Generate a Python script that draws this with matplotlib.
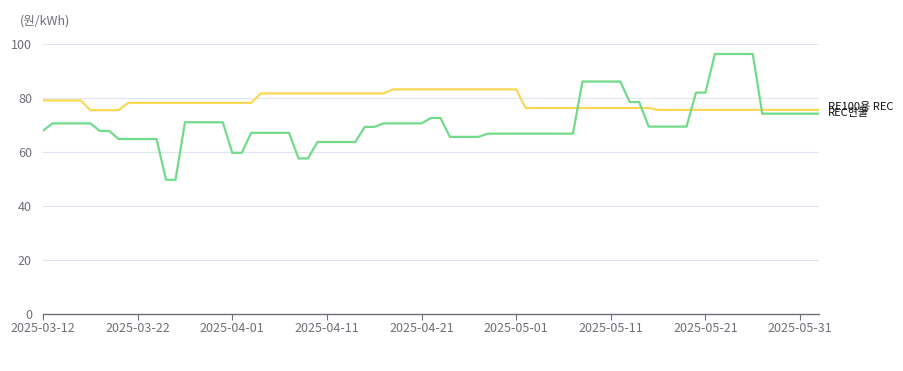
import matplotlib
matplotlib.use("Agg")
import matplotlib.pyplot as plt
import matplotlib.dates as mdates
import numpy as np
import pandas as pd

plt.rcParams['font.family'] = ['Noto Sans CJK KR', 'DejaVu Sans']

dates = pd.date_range("2025-03-12", "2025-06-02", freq="D")

rec_spot = (
    [67.9] + [70.6] * 5 + [67.8] * 2 + [64.8] * 5 + [49.7] * 2 + [71.0] * 5 +
    [59.7] * 2 + [67.1] * 5 + [57.6] * 2 + [63.7] * 5 + [69.3] * 2 + [70.6] * 5 +
    [72.6] * 2 + [65.6] * 4 + [66.8] * 10 + [86.1] * 5 + [78.5] * 2 + [69.4] * 5 +
    [82.0] * 2 + [96.3] * 5 + [74.2] * 7
)
re100_rec = (
    [79.1] * 5 + [75.5] * 4 + [78.2] * 14 + [81.7] * 14 + [83.2] * 14 +
    [76.3] * 14 + [75.6] * 18
)
series_names = ["RE100용 REC", "REC현물"]
y_ticks = [0, 20, 40, 60, 80, 100]
x_ticks = pd.date_range("2025-03-12", "2025-05-31", freq="10D")

fig = plt.figure(figsize=(9.04, 3.71), dpi=100)
ax = fig.add_axes([43 / 904, 57 / 371, (819 - 43) / 904, (314 - 44) / 371])

green = "#72db8a"
yellow = "#fad856"
ax.plot(dates, re100_rec, color=yellow, lw=1.6, solid_joinstyle="round")
ax.plot(dates, rec_spot, color=green, lw=1.6, solid_joinstyle="round")

ax.set_xlim(dates[0], dates[-1])
ax.set_ylim(0, 100)
ax.set_yticks(y_ticks)
ax.set_xticks(x_ticks)
ax.xaxis.set_major_formatter(mdates.DateFormatter("%Y-%m-%d"))

tc = "#6e7079"
ax.grid(axis="y", color="#e0e6f1", lw=0.8)
ax.set_axisbelow(True)
for s in ["top", "right", "left"]:
    ax.spines[s].set_visible(False)
ax.spines["bottom"].set_color(tc)
ax.spines["bottom"].set_linewidth(1)
ax.tick_params(axis="y", length=0, pad=8, labelsize=9, labelcolor=tc)
ax.tick_params(axis="x", length=4, color=tc, pad=2, labelsize=9, labelcolor=tc)

fig.text(20 / 904, 1 - 21 / 371, "(원/kWh)", color=tc, fontsize=9, va="center", ha="left")

ax.annotate(series_names[0], xy=(dates[-1], re100_rec[-1]), xytext=(6.5, 2.2),
            textcoords="offset points", fontsize=8, color="#111111", va="center", ha="left")
ax.annotate(series_names[1], xy=(dates[-1], rec_spot[-1]), xytext=(6.5, 0.5),
            textcoords="offset points", fontsize=8, color="#111111", va="center", ha="left")

fig.savefig("out.png", dpi=100)
